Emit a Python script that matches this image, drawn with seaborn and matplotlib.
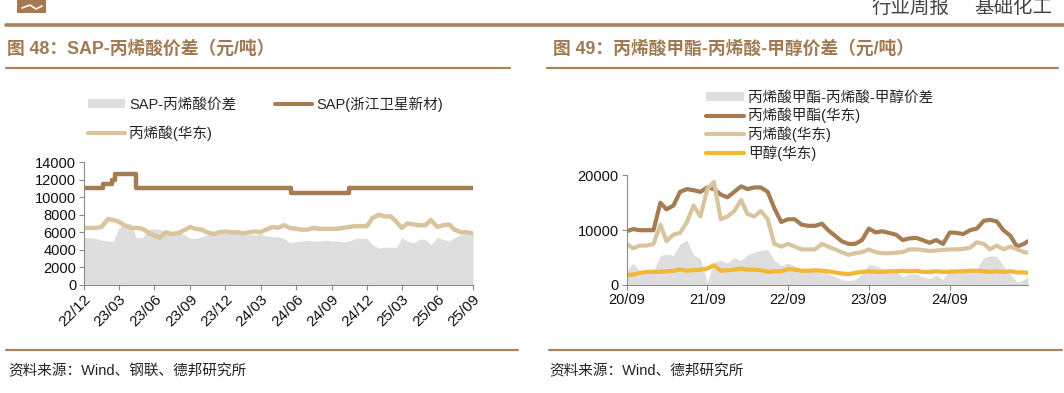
import pandas as pd
import numpy as np
import matplotlib.pyplot as plt
import matplotlib.dates as mdates
from matplotlib.lines import Line2D
from matplotlib.patches import Rectangle, Patch
import seaborn as sns

W, H = 1064, 393

# ---- figure 48: SAP vs acrylic acid (semi-monthly readings) ----
sap_dates = ['2022-12-01', '2023-01-18', '2023-02-11', '2023-02-20',
             '2023-04-15', '2024-05-20', '2024-10-15', '2025-09-01']
sap_price = [11000, 11500, 12000, 12600, 11000, 10500, 11000, 11000]

left_dates = pd.date_range('2022-12-01', '2025-09-01', freq='SMS')
acrylic_east = [6500, 6500, 6500, 6600, 7500, 7400, 7200, 6800, 6500, 6500,
                6400, 6000, 5600, 5400, 6000, 5800, 5900, 6200, 6600, 6400,
                6300, 6000, 5800, 6000, 6100, 6000, 6000, 5900, 6000, 6100,
                6000, 6300, 6600, 6500, 6800, 6500, 6400, 6300, 6300, 6500,
                6400, 6400, 6400, 6400, 6500, 6600, 6700, 6700, 6700, 7600,
                8000, 7800, 7800, 7200, 6500, 7000, 6900, 6800, 6800, 7400,
                6600, 6800, 6900, 6300, 6000, 6000, 5900]
sap_spread = [5400, 5400, 5300, 5100, 5000, 5000, 6500, 6900, 7000, 5400,
              5400, 6300, 6400, 6300, 6100, 6100, 5900, 5800, 5300, 5300,
              5500, 5700, 5900, 5800, 5900, 5900, 5900, 5900, 5800, 5700,
              5800, 5600, 5500, 5500, 5300, 4800, 4900, 5000, 5100, 5000,
              5000, 5100, 5000, 5000, 4900, 5000, 5300, 5300, 5300, 4600,
              4200, 4300, 4300, 4300, 5400, 5000, 4800, 5200, 5200, 4600,
              5400, 5200, 5000, 5400, 5700, 5900, 6000]
left_ticks = pd.date_range('2022-12-01', '2025-09-01', freq='3MS')

# ---- figure 49: methyl acrylate spread (monthly readings) ----
right_dates = list(pd.date_range('2020-09-01', '2025-08-01', freq='MS')) + [pd.Timestamp('2025-08-20')]
ma_price = [9800, 10200, 10000, 10000, 10000, 15000, 13800, 14500, 17000, 17500,
            17300, 17000, 17800, 17500, 16500, 16000, 17000, 18000, 17500, 17800,
            17800, 17000, 14000, 11500, 12000, 12000, 11000, 10800, 10800, 11200,
            10000, 9000, 8000, 7500, 7500, 8200, 10300, 9600, 9800, 9500,
            9200, 8200, 8500, 8600, 8200, 7700, 8200, 7500, 9600, 9500,
            9300, 10000, 10300, 11700, 11900, 11600, 10000, 9000, 7000, 7500,
            8000]
aa_price = [7500, 6700, 7200, 7200, 7500, 11000, 8000, 9200, 9500, 11500,
            14500, 12500, 17500, 18800, 12000, 12500, 13500, 15500, 13000, 12500,
            13500, 12000, 7500, 7000, 7500, 7000, 6500, 6500, 6500, 7500,
            7000, 6500, 6000, 5500, 5800, 6000, 6500, 6000, 5800, 5800,
            5900, 6000, 6500, 6500, 6400, 6200, 6300, 6400, 6500, 6500,
            6600, 6800, 7800, 7500, 6500, 7200, 6500, 7000, 6500, 6000,
            5900]
meoh_price = [1800, 1900, 2200, 2400, 2400, 2400, 2500, 2600, 2800, 2600,
              2700, 2800, 3000, 3600, 2600, 2700, 2800, 3000, 2800, 2800,
              2700, 2400, 2500, 2500, 2900, 2800, 2600, 2600, 2700, 2600,
              2500, 2300, 2100, 2000, 2200, 2400, 2500, 2400, 2400, 2500,
              2500, 2600, 2500, 2600, 2400, 2400, 2500, 2400, 2400, 2500,
              2500, 2600, 2600, 2500, 2400, 2500, 2400, 2500, 2300, 2300,
              2200]
ma_spread = [2500, 4000, 2500, 2500, 2500, 5400, 5600, 5400, 7500, 8200,
             5500, 4800, 500, 4200, 4500, 4000, 5000, 4500, 5500, 6000,
             6300, 6500, 4500, 3500, 4000, 3500, 3000, 3000, 2500, 3000,
             2000, 1500, 1000, 800, 1000, 2000, 3800, 3500, 3000, 2800,
             2500, 1500, 2000, 2000, 1500, 1200, 1800, 1000, 3000, 2800,
             2500, 2800, 3000, 5000, 5300, 5200, 3500, 2000, 500, 1000,
             1500]
right_ticks = pd.date_range('2020-09-01', '2024-09-01', freq='12MS')

BROWN = '#a67c52'
TAN = '#d8c59d'
ORANGE = '#f3b637'
GREY = '#dedede'
RULE = '#a8845f'

sns.set_theme(style='white')
plt.rcParams['font.family'] = ['Liberation Sans', 'Noto Sans CJK SC']
plt.rcParams['axes.unicode_minus'] = False


def fx(px):
    return px / W


def fy(py):
    return 1 - py / H


def style_axis(ax):
    for side in ['top', 'right']:
        ax.spines[side].set_visible(False)
    for side in ['left', 'bottom']:
        ax.spines[side].set_color('#8c8c8c')
        ax.spines[side].set_linewidth(0.8)
    ax.tick_params(axis='both', direction='out', length=3.5, width=0.8,
                   color='#8c8c8c', labelsize=10.5, labelcolor='#111111', pad=2)
    ax.tick_params(axis='both', left=True, bottom=True)
    ax.set_xlabel('')
    ax.set_ylabel('')


fig = plt.figure(figsize=(W / 100, H / 100), dpi=100)

# left chart
ax1 = fig.add_axes([fx(84), fy(285), (473 - 84) / W, (285 - 162) / H])
ax1.fill_between(left_dates, 0, sap_spread, color=GREY, lw=0)
sns.lineplot(x=pd.to_datetime(sap_dates), y=sap_price, ax=ax1, color=BROWN,
             lw=3.2, drawstyle='steps-post')
sns.lineplot(x=left_dates, y=acrylic_east, ax=ax1, color=TAN, lw=3.2)
ax1.set_xlim(pd.Timestamp('2022-12-01'), pd.Timestamp('2025-09-01'))
ax1.set_ylim(0, 14000)
ax1.set_yticks(range(0, 14001, 2000))
ax1.set_xticks(left_ticks)
ax1.xaxis.set_major_formatter(mdates.DateFormatter('%y/%m'))
style_axis(ax1)
ax1.tick_params(axis='x', labelsize=11)
for lab in ax1.get_xticklabels():
    lab.set_rotation(45)
    lab.set_ha('right')
    lab.set_rotation_mode('anchor')

# right chart
ax2 = fig.add_axes([fx(626.5), fy(285), (1028 - 626.5) / W, (285 - 175.4) / H])
ax2.fill_between(right_dates, 0, ma_spread, color=GREY, lw=0)
sns.lineplot(x=right_dates, y=ma_price, ax=ax2, color=BROWN, lw=3)
sns.lineplot(x=right_dates, y=aa_price, ax=ax2, color=TAN, lw=3)
sns.lineplot(x=right_dates, y=meoh_price, ax=ax2, color=ORANGE, lw=3)
ax2.set_xlim(pd.Timestamp('2020-09-01'), pd.Timestamp('2025-08-20'))
ax2.set_ylim(0, 20000)
ax2.set_yticks([0, 10000, 20000])
ax2.set_xticks(right_ticks)
ax2.xaxis.set_major_formatter(mdates.DateFormatter('%y/%m'))
style_axis(ax2)

# legends
fs = 10.5
em = fs * 100 / 72
h_spread = Patch(facecolor=GREY, edgecolor='none')
h_sap = Line2D([], [], color=BROWN, lw=3, solid_capstyle='round')
h_aa = Line2D([], [], color=TAN, lw=3, solid_capstyle='round')
fig.legend([h_spread, h_aa, h_sap], ['SAP-丙烯酸价差', '丙烯酸(华东)', 'SAP(浙江卫星新材)'],
           loc='upper left', bbox_to_anchor=(fx(88), fy(96)), ncol=2, frameon=False,
           fontsize=fs, handlelength=37 / em, handleheight=0.55, handletextpad=4 / em,
           columnspacing=39 / em, labelspacing=0.95, borderpad=0, borderaxespad=0)

h_ma = Line2D([], [], color=BROWN, lw=3, solid_capstyle='round')
h_meoh = Line2D([], [], color=ORANGE, lw=3, solid_capstyle='round')
fig.legend([h_spread, h_ma, h_aa, h_meoh],
           ['丙烯酸甲酯-丙烯酸-甲醇价差', '丙烯酸甲酯(华东)', '丙烯酸(华东)', '甲醇(华东)'],
           loc='upper left', bbox_to_anchor=(fx(706), fy(91)), ncol=1, frameon=False,
           fontsize=fs, handlelength=38 / em, handleheight=0.55, handletextpad=4 / em,
           labelspacing=0.2, borderpad=0, borderaxespad=0)

# page decorations
fig.add_artist(Rectangle((fx(17), fy(13)), (46 - 17) / W, 13 / H,
                         transform=fig.transFigure, color='#a57a4e', lw=0))
fig.add_artist(Line2D([fx(22), fx(30), fx(36), fx(42)], [fy(8), fy(5), fy(9), fy(6)],
                      transform=fig.transFigure, color='white', lw=1.2))
fig.text(fx(949), fy(13), '行业周报', ha='right', va='baseline', fontsize=14, color='#444444')
fig.text(fx(1052), fy(13), '基础化工', ha='right', va='baseline', fontsize=14, color='#444444')
fig.add_artist(Line2D([fx(6), fx(1064)], [fy(25), fy(25)], transform=fig.transFigure,
                      color=RULE, lw=2.6))

fig.text(fx(7), fy(49), '图 48：SAP-丙烯酸价差（元/吨）', ha='left', va='center',
         fontsize=12.8, fontweight='bold', color='#a07a50')
fig.text(fx(553), fy(49), '图 49：丙烯酸甲酯-丙烯酸-甲醇价差（元/吨）', ha='left', va='center',
         fontsize=12.8, fontweight='bold', color='#a07a50')
fig.add_artist(Line2D([fx(6), fx(510)], [fy(68), fy(68)], transform=fig.transFigure,
                      color=RULE, lw=1.6))
fig.add_artist(Line2D([fx(547), fx(1058)], [fy(68), fy(68)], transform=fig.transFigure,
                      color=RULE, lw=1.6))

fig.add_artist(Line2D([fx(6), fx(518)], [fy(350), fy(350)], transform=fig.transFigure,
                      color=RULE, lw=1.6))
fig.add_artist(Line2D([fx(549), fx(1062)], [fy(350), fy(350)], transform=fig.transFigure,
                      color=RULE, lw=1.6))
fig.text(fx(8), fy(371), '资料来源：Wind、钢联、德邦研究所', ha='left', va='center',
         fontsize=10.5, color='#222222')
fig.text(fx(549), fy(371), '资料来源：Wind、德邦研究所', ha='left', va='center',
         fontsize=10.5, color='#222222')

fig.savefig('out.png', dpi=100)
